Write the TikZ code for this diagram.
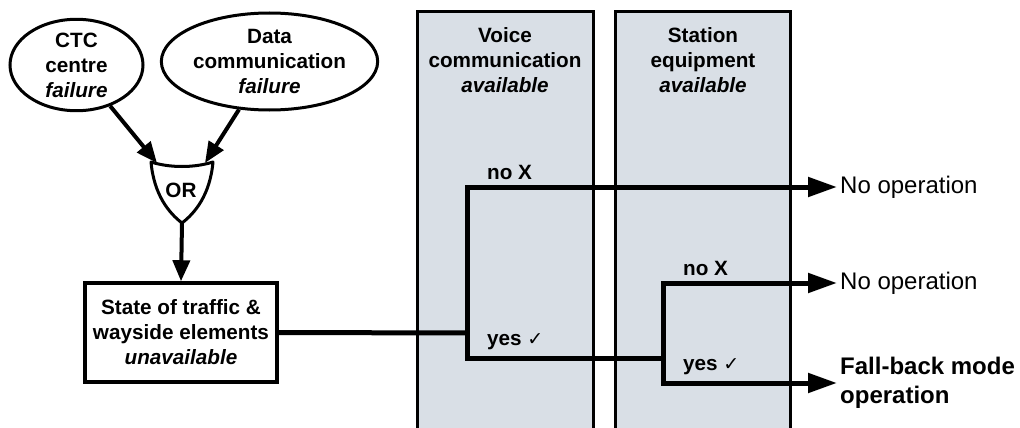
\documentclass[tikz,border=0pt]{standalone}
\usepackage{fontspec}
\setmainfont{Liberation Sans}
\newfontfamily\symfont{DejaVu Sans}
\newcommand\chkmark{{\symfont\mdseries\fontsize{19}{20}\selectfont ✓}}
\usetikzlibrary{arrows.meta,shapes.geometric}
\definecolor{colfill}{RGB}{217,223,230}
\begin{document}
\begin{tikzpicture}[x=1pt,y=-1pt,
  lbl/.style={font=\fontsize{20.7}{25}\selectfont\bfseries, align=center, inner sep=0pt},
  oval/.style={ellipse, draw, line width=3pt, inner sep=0pt, fill=white},
  colline/.style={line width=3pt},
  flow/.style={line width=5pt, line cap=rect},
  bigarr/.style={line width=5pt, line cap=rect, -{Triangle[length=29pt,width=19pt]}},
  smallarr/.style={line width=4pt, -{Triangle[length=21pt,width=17pt]}},
  outtxt/.style={font=\fontsize{24}{29}\selectfont, anchor=west, inner sep=0pt, align=left},
]
\useasboundingbox (0,0) rectangle (1020,428);
% columns
\fill[colfill] (417,12) rectangle (593,432);
\draw[colline] (417,432) -- (417,12) -- (593,12) -- (593,432);
\fill[colfill] (615,12) rectangle (790,432);
\draw[colline] (615,432) -- (615,12) -- (790,12) -- (790,432);
\node[lbl] (voice) at (505,60) {Voice\\communication\\{\itshape available}};
\node[lbl] (station) at (703,60) {Station\\equipment\\{\itshape available}};

% ellipses
\node[oval, minimum width=133pt, minimum height=86pt, font=\fontsize{20.7}{25}\selectfont\bfseries, align=center] (ctc) at (76.5,65) {CTC\\centre\\{\itshape failure}};
\node[oval, minimum width=199pt, minimum height=97pt, font=\fontsize{20.7}{25}\selectfont\bfseries, align=center] (data) at (269.5,61.5) {Data\\communication\\{\itshape failure}};

% OR gate
\coordinate (orL) at (151,162);
\coordinate (orR) at (213,162);
\coordinate (orB) at (182,223);
\draw[line width=3pt, fill=white, line join=round]
  (orL) .. controls (170,168) and (194,168) .. (orR)
  .. controls (210,195) and (195,213) .. (orB)
  .. controls (169,213) and (154,195) .. (orL) -- cycle;
\node[lbl] (or) at (181,190) {OR};
\coordinate (orIn1) at (157,163);
\coordinate (orIn2) at (205,163);
\draw[smallarr] (ctc) -- (orIn1);
\draw[smallarr] (data) -- (orIn2);

% state box
\node[draw, line width=3.5pt, minimum width=192pt, minimum height=99pt, lbl] (box) at (181,332.5) {State of traffic \&\\wayside elements\\{\itshape unavailable}};
\draw[smallarr] (orB) -- (box.north);

% outcomes
\node[outtxt] (nop1) at (840,187) {No operation};
\node[outtxt] (nop2) at (840,283) {No operation};
\node[outtxt, font=\fontsize{24}{29}\selectfont\bfseries] (fb) at (840,383) {Fall-back mode\\operation};

% flow lines
\coordinate (j1) at (467,333);
\coordinate (v1bot) at (467,358);
\coordinate (v2mid) at (663,358);
\coordinate (v2bot) at (663,383);
\draw[flow] (box.east) -- (j1);
\draw[bigarr] (v2mid) -- (v1bot) |- ([xshift=-3pt]nop1.west);
\draw[bigarr] (v2bot) |- ([xshift=-3pt]nop2.west);
\draw[bigarr] (v2bot) -- ([xshift=-3pt]fb.west);

% branch labels
\node[lbl, anchor=west] (no1) at (487,172) {no X};
\node[lbl, anchor=west] (yes1) at (487,342) {yes \chkmark};
\node[lbl, anchor=west] (no2) at (683,268) {no X};
\node[lbl, anchor=west] (yes2) at (683,367) {yes \chkmark};
\end{tikzpicture}
\end{document}
